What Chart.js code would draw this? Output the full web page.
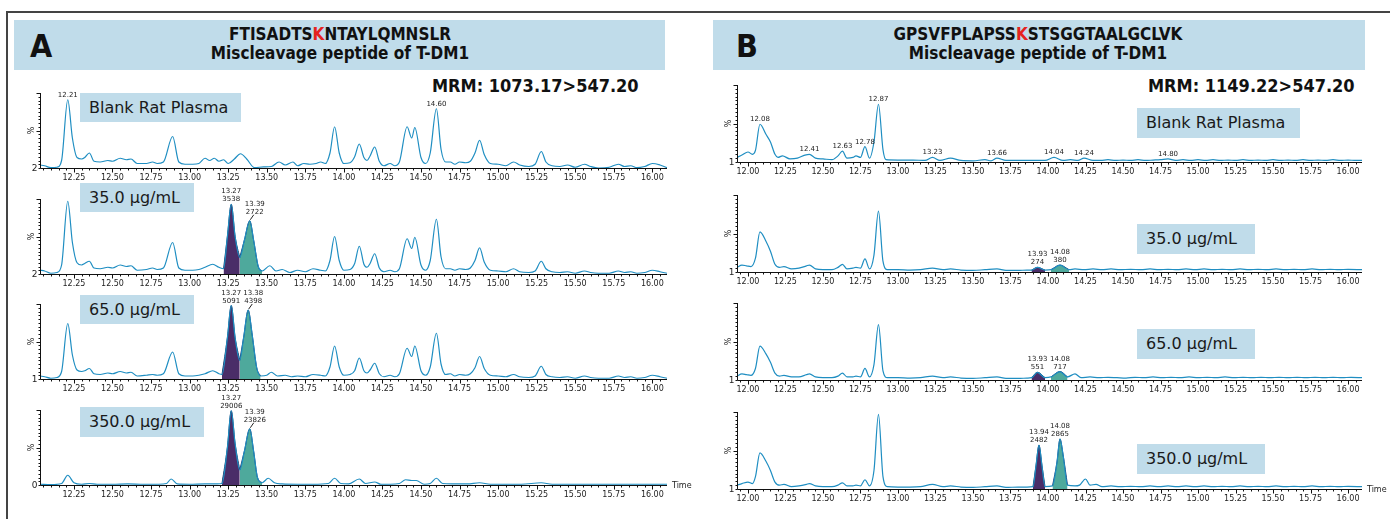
<!DOCTYPE html>
<html>
<head>
<meta charset="utf-8">
<script src="https://cdn.jsdelivr.net/npm/chart.js@4.4.1/dist/chart.umd.min.js"></script>
<style>
  html, body { margin: 0; padding: 0; background: #fff; }
  #page { position: relative; width: 1390px; height: 519px; overflow: hidden; background: #fff; font-family: 'DejaVu Sans', sans-serif; }
  .abs { position: absolute; }
  .frame { border: 2px solid #444; box-sizing: border-box; }
  .bar { background: #c0dcea; }
  .letter { font-family: 'DejaVu Sans Condensed', 'DejaVu Sans', sans-serif; font-weight: bold; font-size: 32px; color: #111; line-height: 1; }
  .title { font-family: 'DejaVu Sans Condensed', 'DejaVu Sans', sans-serif; font-weight: bold; font-size: 17px; color: #111; text-align: center; line-height: 19px; white-space: nowrap; }
  .title .k { color: #e5231f; }
  .mrm { font-family: 'DejaVu Sans Condensed', 'DejaVu Sans', sans-serif; font-weight: bold; font-size: 18px; color: #111; white-space: nowrap; line-height: 1; }
  .tag { background: #c0dcea; color: #1a1a1a; font-size: 16px; line-height: 30px; padding-left: 9px; box-sizing: border-box; white-space: nowrap; }
  canvas { position: absolute; }
</style>
</head>
<body>
<div id="page">
  <div class="abs frame" style="left:6px; top:11px; width:1400px; height:530px;"></div>

  <div class="abs bar" style="left:14px; top:20px; width:651px; height:50px;"></div>
  <div class="abs letter" style="left:30px; top:30px;">A</div>
  <div class="abs title" style="left:140px; top:25px; width:400px;">FTISADTS<span class="k">K</span>NTAYLQMNSLR<br>Miscleavage peptide of T-DM1</div>
  <div class="abs mrm" style="left:432px; top:77px;">MRM: 1073.17&gt;547.20</div>

  <div class="abs bar" style="left:713px; top:20px; width:652px; height:50px;"></div>
  <div class="abs letter" style="left:736px; top:30px;">B</div>
  <div class="abs title" style="left:838px; top:25px; width:400px;">GPSVFPLAPSS<span class="k">K</span>STSGGTAALGCLVK<br>Miscleavage peptide of T-DM1</div>
  <div class="abs mrm" style="left:1148px; top:77px;">MRM: 1149.22&gt;547.20</div>
</div>

<script>
// ---------------------------------------------------------------
// Chromatogram data: [retention time (min), intensity (% of axis)]
// ---------------------------------------------------------------
const sampleNames = ['Blank Rat Plasma', '35.0 µg/mL', '65.0 µg/mL', '350.0 µg/mL'];

const ticksA = [12.25, 12.50, 12.75, 13.00, 13.25, 13.50, 13.75, 14.00, 14.25, 14.50, 14.75, 15.00, 15.25, 15.50, 15.75, 16.00];
const ticksB = [12.00, 12.25, 12.50, 12.75, 13.00, 13.25, 13.50, 13.75, 14.00, 14.25, 14.50, 14.75, 15.00, 15.25, 15.50, 15.75, 16.00];

const baseLabelsA = ['2', '2', '1', '0'];
const baseLabelsB = ['1', '1', '1', '1'];

// Panel A, FTISADTSKNTAYLQMNSLR
const traceA1 = [
  [12.03,4],[12.06,3],[12.10,0.5],[12.14,1],[12.17,10],[12.21,91],[12.24,40],[12.27,14],[12.30,12],[12.32,14],
  [12.35,20],[12.38,9],[12.42,8],[12.47,10],[12.50,9],[12.55,13],[12.59,11],[12.62,12],[12.66,6],[12.72,6],
  [12.76,8],[12.79,6],[12.83,8],[12.89,42],[12.93,8],[12.97,5],[13.02,5],[13.06,6],[13.10,13],[13.13,10],
  [13.16,13],[13.19,9],[13.22,11],[13.25,6],[13.29,12],[13.33,19],[13.37,12],[13.42,0.5],[13.48,1.5],[13.53,2],
  [13.58,8],[13.62,4],[13.67,8],[13.70,3],[13.74,6],[13.78,5],[13.82,6],[13.85,8],[13.88,6],[13.91,20],
  [13.94,55],[13.97,20],[14.00,6],[14.04,7],[14.07,15],[14.10,32],[14.13,14],[14.15,10],[14.17,16],[14.20,28],
  [14.23,9],[14.26,3],[14.30,6],[14.33,3],[14.36,8],[14.41,55],[14.44,40],[14.46,54],[14.50,14],[14.53,6],
  [14.56,20],[14.60,79],[14.63,25],[14.66,8],[14.69,8],[14.72,5],[14.75,8],[14.79,7],[14.82,9],[14.85,20],
  [14.88,37],[14.91,18],[14.95,6],[15.00,5],[15.05,3],[15.10,8],[15.14,4],[15.20,2],[15.24,5],[15.28,22],
  [15.31,8],[15.35,3],[15.40,2],[15.45,4],[15.50,1],[15.56,5],[15.60,2],[15.65,0],[15.72,1],[15.78,5],
  [15.82,2],[15.86,3],[15.90,0.5],[15.95,2],[16.00,6],[16.05,4],[16.095,0.5]
];
const traceA2 = [
  [12.03,5],[12.06,4],[12.10,1],[12.14,2],[12.17,12],[12.21,97],[12.24,42],[12.27,15],[12.30,12],[12.32,14],
  [12.35,17],[12.38,8],[12.42,7],[12.47,9],[12.50,8],[12.55,12],[12.59,10],[12.62,11],[12.66,5],[12.72,6],
  [12.76,8],[12.79,6],[12.83,8],[12.89,42],[12.93,8],[12.97,5],[13.02,5],[13.06,6],[13.10,9],[13.15,13],
  [13.19,9],[13.22,7],[13.245,50],[13.27,93],[13.295,50],[13.325,22],[13.355,45],[13.39,71],[13.415,45],[13.445,10],
  [13.47,4],[13.52,11],[13.56,4],[13.60,6],[13.65,2],[13.70,5],[13.75,3],[13.80,7],[13.85,5],[13.88,4],
  [13.91,18],[13.94,50],[13.97,18],[14.00,5],[14.04,6],[14.07,14],[14.10,37],[14.13,13],[14.15,9],[14.17,14],
  [14.20,27],[14.23,8],[14.26,3],[14.30,5],[14.33,3],[14.36,7],[14.41,47],[14.44,34],[14.46,49],[14.50,12],
  [14.53,5],[14.56,18],[14.60,73],[14.63,23],[14.66,7],[14.69,7],[14.72,5],[14.75,7],[14.79,6],[14.82,8],
  [14.85,18],[14.88,35],[14.91,16],[14.95,5],[15.00,4],[15.05,3],[15.10,7],[15.14,3],[15.20,2],[15.24,4],
  [15.28,17],[15.31,7],[15.35,3],[15.40,2],[15.45,3],[15.50,1],[15.56,4],[15.60,2],[15.65,1],[15.72,1],
  [15.78,4],[15.82,2],[15.86,3],[15.90,1],[15.95,2],[16.00,5],[16.05,3],[16.095,1]
];
const traceA3 = [
  [12.03,4],[12.06,3],[12.10,1],[12.14,2],[12.17,10],[12.21,74],[12.24,32],[12.27,12],[12.30,10],[12.32,11],
  [12.35,14],[12.38,7],[12.42,6],[12.47,8],[12.50,7],[12.55,10],[12.59,8],[12.62,9],[12.66,4],[12.72,5],
  [12.76,6],[12.79,5],[12.83,7],[12.89,36],[12.93,7],[12.97,4],[13.02,4],[13.06,5],[13.10,7],[13.15,11],
  [13.19,7],[13.21,6],[13.245,55],[13.27,98],[13.295,55],[13.325,25],[13.35,55],[13.38,92],[13.405,60],[13.435,15],
  [13.46,4],[13.50,5],[13.53,9],[13.57,4],[13.62,5],[13.66,3],[13.70,4],[13.75,3],[13.80,6],[13.85,5],
  [13.88,4],[13.91,16],[13.94,44],[13.97,16],[14.00,5],[14.04,6],[14.07,11],[14.10,28],[14.13,11],[14.15,8],
  [14.17,12],[14.20,21],[14.23,7],[14.26,3],[14.30,5],[14.33,3],[14.36,7],[14.41,41],[14.44,30],[14.46,44],
  [14.50,11],[14.53,5],[14.56,16],[14.60,61],[14.63,20],[14.66,6],[14.69,7],[14.72,4],[14.75,6],[14.79,5],
  [14.82,7],[14.85,15],[14.88,30],[14.91,14],[14.95,5],[15.00,4],[15.05,3],[15.10,6],[15.14,3],[15.20,2],
  [15.24,4],[15.28,17],[15.31,6],[15.35,3],[15.40,2],[15.45,3],[15.50,1],[15.56,4],[15.60,2],[15.65,1],
  [15.72,1],[15.78,4],[15.82,2],[15.86,3],[15.90,1],[15.95,2],[16.00,5],[16.05,3],[16.095,1]
];
const traceA4 = [
  [12.03,1],[12.10,0.5],[12.17,2],[12.21,13],[12.25,3],[12.30,1],[12.35,2],[12.40,1],[12.50,1],[12.60,1.5],
  [12.70,1],[12.80,1],[12.85,2],[12.88,8],[12.92,1.5],[13.00,1],[13.10,1.5],[13.18,1.5],[13.21,2],[13.245,50],
  [13.27,99],[13.295,55],[13.325,20],[13.355,45],[13.39,75],[13.415,45],[13.44,10],[13.47,3],[13.51,9],[13.55,3],
  [13.60,1.5],[13.70,1],[13.80,1],[13.90,2],[13.94,9],[13.98,2],[14.03,1.5],[14.10,8],[14.14,2],[14.20,4],
  [14.24,1],[14.30,1],[14.36,2],[14.40,7],[14.44,6],[14.47,6],[14.52,1],[14.56,2],[14.60,9],[14.64,2],
  [14.70,1.5],[14.80,1.5],[14.88,3],[14.95,1],[15.05,1],[15.15,1],[15.28,3],[15.35,1],[15.50,1],[15.60,1],
  [15.75,1],[15.90,1],[16.00,1],[16.095,1]
];

// Panel B, GPSVFPLAPSSKSTSGGTAALGCLVK
const traceB1 = [
  [11.927,6],[11.96,9],[12.00,13],[12.03,10],[12.05,15],[12.08,49],[12.12,36],[12.15,26],[12.18,10],[12.20,6],
  [12.23,8],[12.28,4],[12.33,5],[12.38,9],[12.41,10],[12.45,5],[12.50,4],[12.56,3],[12.60,8],[12.63,14],
  [12.66,5],[12.70,6],[12.72,8],[12.75,6],[12.78,20],[12.81,5],[12.84,26],[12.87,75],[12.90,16],[12.92,3],
  [13.00,2.5],[13.10,2.5],[13.18,2],[13.23,6],[13.28,2],[13.35,5],[13.42,2],[13.50,1.5],[13.58,3],[13.62,1.5],
  [13.66,5],[13.72,2],[13.80,2],[13.90,2],[13.98,2],[14.04,6],[14.10,2],[14.15,3],[14.20,2],[14.24,5],
  [14.30,2],[14.35,2],[14.40,3],[14.45,2],[14.50,2.5],[14.55,2],[14.60,3],[14.65,2],[14.70,2.5],[14.75,3],
  [14.80,4],[14.85,2],[14.90,3],[14.95,2],[15.00,3],[15.05,2],[15.10,3],[15.15,2],[15.20,2.5],[15.25,2],
  [15.30,3],[15.35,2],[15.40,2.5],[15.45,2],[15.50,3],[15.55,2],[15.60,2.5],[15.65,2],[15.70,3],[15.75,2],
  [15.80,2.5],[15.85,2],[15.90,3],[15.95,2],[16.00,2.5],[16.05,2],[16.093,2]
];
const traceB2 = [
  [11.927,6],[11.96,9],[11.99,8],[12.02,7],[12.05,18],[12.08,52],[12.12,40],[12.15,27],[12.18,10],[12.21,6],
  [12.24,7],[12.29,4],[12.34,5],[12.39,8],[12.41,9],[12.45,4],[12.50,3],[12.56,3],[12.60,6],[12.63,10],
  [12.66,4],[12.70,5],[12.72,6],[12.75,5],[12.78,17],[12.81,4],[12.84,22],[12.87,79],[12.90,14],[12.93,3],
  [13.00,3],[13.08,2.5],[13.15,3],[13.23,5],[13.30,3],[13.35,4],[13.42,2.5],[13.50,2],[13.58,3],[13.66,4],
  [13.72,2],[13.80,2],[13.86,2.5],[13.89,2.5],[13.93,6],[13.98,2.5],[14.02,3],[14.08,9],[14.14,3],[14.18,4],
  [14.24,3],[14.30,4],[14.36,3],[14.42,4],[14.48,3],[14.55,3.5],[14.62,3],[14.68,4],[14.74,3],[14.80,3.5],
  [14.86,3],[14.92,4],[14.98,3],[15.04,4],[15.10,3],[15.16,3.5],[15.22,3],[15.28,4],[15.34,3],[15.40,3.5],
  [15.46,3],[15.52,4],[15.58,3],[15.64,3.5],[15.70,3],[15.76,4],[15.82,3],[15.88,3.5],[15.94,3],[16.00,3.5],
  [16.093,3]
];
const traceB3 = [
  [11.927,5],[11.96,8],[11.99,7],[12.02,6],[12.05,15],[12.08,44],[12.12,34],[12.15,23],[12.18,9],[12.21,5],
  [12.24,6],[12.29,4],[12.34,4],[12.39,7],[12.41,8],[12.45,4],[12.50,3],[12.56,3],[12.60,5],[12.63,9],
  [12.66,4],[12.70,4],[12.72,5],[12.75,4],[12.78,15],[12.81,4],[12.84,20],[12.87,72],[12.90,12],[12.93,3],
  [13.00,3],[13.08,2.5],[13.15,3],[13.23,5],[13.30,3],[13.35,4],[13.42,2.5],[13.50,2],[13.58,3],[13.66,4],
  [13.72,2],[13.80,2],[13.86,2.5],[13.89,3],[13.93,10],[13.98,3],[14.02,4],[14.08,11],[14.13,4],[14.18,8],
  [14.22,3],[14.28,4],[14.34,3],[14.40,3.5],[14.46,3],[14.52,2.5],[14.58,3.5],[14.64,3],[14.70,4],[14.76,3],
  [14.82,3.5],[14.88,3],[14.94,4],[15.00,3],[15.06,3.5],[15.12,3],[15.18,4],[15.24,3],[15.30,3.5],[15.36,3],
  [15.42,3.5],[15.48,3],[15.54,3.5],[15.60,3],[15.66,3.5],[15.72,3],[15.78,3.5],[15.84,3],[15.90,3.5],[15.96,3],
  [16.02,3.5],[16.093,3]
];
const traceB4 = [
  [11.927,5],[11.96,7],[12.00,9],[12.03,7],[12.05,16],[12.08,47],[12.12,36],[12.15,24],[12.18,9],[12.21,5],
  [12.24,6],[12.29,3],[12.34,4],[12.39,6],[12.41,7],[12.45,4],[12.50,3],[12.56,3],[12.60,5],[12.63,8],
  [12.66,4],[12.70,4],[12.72,5],[12.75,4],[12.78,12],[12.81,4],[12.84,24],[12.87,97],[12.90,16],[12.93,3],
  [13.00,2.5],[13.08,2.5],[13.15,3],[13.23,6],[13.30,3],[13.35,4],[13.42,2.5],[13.50,2],[13.58,3],[13.66,4],
  [13.72,2],[13.80,2.5],[13.86,2.5],[13.90,3],[13.92,30],[13.94,57],[13.96,30],[13.98,3],[14.03,4],[14.06,35],
  [14.08,65],[14.10,45],[14.13,5],[14.18,4],[14.21,5],[14.25,13],[14.28,5],[14.32,6],[14.36,3],[14.42,4],
  [14.48,3],[14.55,3.5],[14.62,3],[14.68,4],[14.74,3],[14.80,4],[14.86,3],[14.92,4],[14.98,3],[15.04,4],
  [15.10,3],[15.16,3.5],[15.22,3],[15.28,4],[15.34,3],[15.40,3.5],[15.46,3],[15.52,4],[15.58,3],[15.64,3.5],
  [15.70,3],[15.76,4],[15.82,3],[15.88,3.5],[15.94,3],[16.00,3.5],[16.093,3]
];

// Integrated peaks: [start, end] retention time windows
const integA = [[], [[13.22,13.325],[13.325,13.47]], [[13.21,13.325],[13.325,13.46]], [[13.21,13.325],[13.325,13.47]]];
const integB = [[], [[13.89,13.98],[14.02,14.14]], [[13.89,13.98],[14.02,14.13]], [[13.90,13.98],[14.03,14.13]]];

// Peak annotations: retention time of apex and the text shown above it
const peaksA = [
  [{t:12.21, text:['12.21']}, {t:14.60, text:['14.60']}],
  [{t:13.27, text:['13.27','3538']}, {t:13.39, text:['13.39','2722']}],
  [{t:13.27, text:['13.27','5091']}, {t:13.38, text:['13.38','4398']}],
  [{t:13.27, text:['13.27','29006']}, {t:13.39, text:['13.39','23826']}]
];
const peaksB = [
  [{t:12.08,text:['12.08']},{t:12.41,text:['12.41']},{t:12.63,text:['12.63']},{t:12.78,text:['12.78']},{t:12.87,text:['12.87']},
   {t:13.23,text:['13.23']},{t:13.66,text:['13.66']},{t:14.04,text:['14.04']},{t:14.24,text:['14.24']},{t:14.80,text:['14.80']}],
  [{t:13.93, text:['13.93','274']}, {t:14.08, text:['14.08','380']}],
  [{t:13.93, text:['13.93','551']}, {t:14.08, text:['14.08','717']}],
  [{t:13.94, text:['13.94','2482']}, {t:14.08, text:['14.08','2865']}]
];

// ---------------------------------------------------------------
// Layout and styling
// ---------------------------------------------------------------
const panelA = {
  traces: [traceA1, traceA2, traceA3, traceA4], integ: integA, peaks: peaksA, ticks: ticksA, baseLabels: baseLabelsA,
  canvasLeft: 8, canvasWidth: 686, axisLeft: 40, axisRight: 667, xMin: 12.03, xMax: 16.095,
  baselines: [168, 274, 379, 485], axisHeight: 75,
  tags: [{l:80,t:93,w:161,h:29},{l:80,t:183,w:114,h:29},{l:80,t:295,w:114,h:29},{l:80,t:407,w:124,h:30}],
  leaders: [[false,false],[false,true],[false,true],[false,true]]
};
const panelB = {
  traces: [traceB1, traceB2, traceB3, traceB4], integ: integB, peaks: peaksB, ticks: ticksB, baseLabels: baseLabelsB,
  canvasLeft: 698, canvasWidth: 692, axisLeft: 737, axisRight: 1362, xMin: 11.927, xMax: 16.093,
  baselines: [161.5, 271.5, 379.5, 488.5], axisHeight: 77,
  tags: [{l:1137,t:108,w:163,h:30},{l:1137,t:224,w:118,h:30},{l:1137,t:329,w:118,h:30},{l:1137,t:444,w:128,h:30}],
  leaders: [[],[false,false],[false,false],[false,false]]
};

const TRACE_COLOR = '#1f8ec2';
const FILL_COLORS = ['#4a2d68', '#4ea99c'];
const FILL_EDGE = '#1d3c6e';

const decor = {
  id: 'decor',
  afterDatasetsDraw(chart, args, o) {
    const { ctx, chartArea: a, scales: { x, y } } = chart;
    ctx.save();
    ctx.strokeStyle = '#111';
    ctx.lineWidth = 1;
    const by = Math.round(a.bottom) + 0.5;
    const lx = Math.round(a.left) + 0.5;
    ctx.beginPath();
    ctx.moveTo(lx, by); ctx.lineTo(Math.round(a.right), by);
    for (let k = Math.ceil(x.min * 20); k <= Math.floor(x.max * 20); k++) {
      const px = Math.round(x.getPixelForValue(k / 20)) + 0.5;
      ctx.moveTo(px, by); ctx.lineTo(px, by + 2);
    }
    o.ticks.forEach(t => {
      const px = Math.round(x.getPixelForValue(t)) + 0.5;
      ctx.moveTo(px, by); ctx.lineTo(px, by + 4);
    });
    ctx.moveTo(lx, Math.round(a.top)); ctx.lineTo(lx, by);
    for (let k = 0; k <= 20; k++) {
      const py = Math.round(y.getPixelForValue(k * 5)) + 0.5;
      const len = (k === 10 || k === 20) ? 4 : 2;
      ctx.moveTo(lx - len, py); ctx.lineTo(lx, py);
    }
    ctx.stroke();

    ctx.fillStyle = '#222';
    ctx.font = '8px "DejaVu Sans"';
    ctx.textAlign = 'center';
    ctx.textBaseline = 'top';
    o.ticks.forEach(t => {
      ctx.fillText(t.toFixed(2), x.getPixelForValue(t), by + 5);
    });
    ctx.textAlign = 'right';
    ctx.textBaseline = 'middle';
    ctx.font = '9px "DejaVu Sans"';
    ctx.fillText(o.baseLabel, lx - 3, by);
    ctx.save();
    ctx.translate(lx - 9, (a.top + a.bottom) / 2);
    ctx.rotate(-Math.PI / 2);
    ctx.textAlign = 'center';
    ctx.font = '8px "DejaVu Sans"';
    ctx.fillText('%', 0, 0);
    ctx.restore();
    if (o.showTime) {
      ctx.textAlign = 'left';
      ctx.font = '8px "DejaVu Sans"';
      ctx.fillText('Time', a.right + 5, by);
    }

    // apex annotations
    const trace = chart.data.datasets[0].data;
    ctx.font = '7px "DejaVu Sans"';
    ctx.textAlign = 'center';
    ctx.textBaseline = 'alphabetic';
    o.peaks.forEach((p, i) => {
      const pt = trace.find(d => Math.abs(d.x - p.t) < 1e-9);
      if (!pt) return;
      const ax = x.getPixelForValue(pt.x);
      const ay = y.getPixelForValue(pt.y);
      const lead = o.leaders && o.leaders[i];
      const cx = ax + (lead ? 5 : 0);
      const bottom = ay - (lead ? 7 : 3);
      p.text.forEach((line, j) => {
        ctx.fillText(line, cx, bottom - (p.text.length - 1 - j) * 8);
      });
      if (lead) {
        ctx.beginPath();
        ctx.strokeStyle = '#222';
        ctx.moveTo(ax + 0.5, ay - 1);
        ctx.lineTo(cx - 1, bottom + 1);
        ctx.stroke();
      }
    });
    ctx.restore();
  }
};

const page = document.getElementById('page');

function drawPanel(P) {
  P.tags.forEach((g, i) => {
    const d = document.createElement('div');
    d.className = 'abs tag';
    d.style.left = g.l + 'px'; d.style.top = g.t + 'px';
    d.style.width = g.w + 'px'; d.style.height = g.h + 'px';
    d.style.lineHeight = g.h + 'px';
    d.textContent = sampleNames[i];
    page.appendChild(d);
  });

  P.traces.forEach((tr, i) => {
    const padTop = 24, padBottom = 18;
    const base = P.baselines[i];
    const top = base - P.axisHeight - padTop;
    const h = P.axisHeight + padTop + padBottom;
    const cv = document.createElement('canvas');
    cv.width = P.canvasWidth; cv.height = Math.round(h);
    cv.style.left = P.canvasLeft + 'px';
    cv.style.top = top + 'px';
    page.appendChild(cv);

    const pts = tr.map(([t, v]) => ({ x: t, y: v }));
    const datasets = [{
      data: pts, borderColor: TRACE_COLOR, borderWidth: 1.2, fill: false, order: 0
    }];
    P.integ[i].forEach(([s, e], k) => {
      datasets.push({
        data: pts.filter(p => p.x >= s - 1e-9 && p.x <= e + 1e-9),
        borderColor: FILL_EDGE, borderWidth: 1, backgroundColor: FILL_COLORS[k], fill: 'origin', order: 1
      });
    });

    new Chart(cv, {
      type: 'line',
      data: { datasets },
      options: {
        responsive: false, animation: false, events: [],
        layout: { padding: { left: P.axisLeft - P.canvasLeft, right: P.canvasLeft + P.canvasWidth - P.axisRight, top: padTop, bottom: padBottom } },
        elements: { point: { radius: 0 }, line: { cubicInterpolationMode: 'monotone' } },
        scales: {
          x: { type: 'linear', min: P.xMin, max: P.xMax, display: false },
          y: { type: 'linear', min: 0, max: 100, display: false }
        },
        plugins: {
          legend: { display: false }, tooltip: { enabled: false },
          decor: { ticks: P.ticks, baseLabel: P.baseLabels[i], peaks: P.peaks[i], leaders: P.leaders[i], showTime: i === 3 }
        }
      },
      plugins: [decor]
    });
  });
}

drawPanel(panelA);
drawPanel(panelB);
</script>
</body>
</html>
